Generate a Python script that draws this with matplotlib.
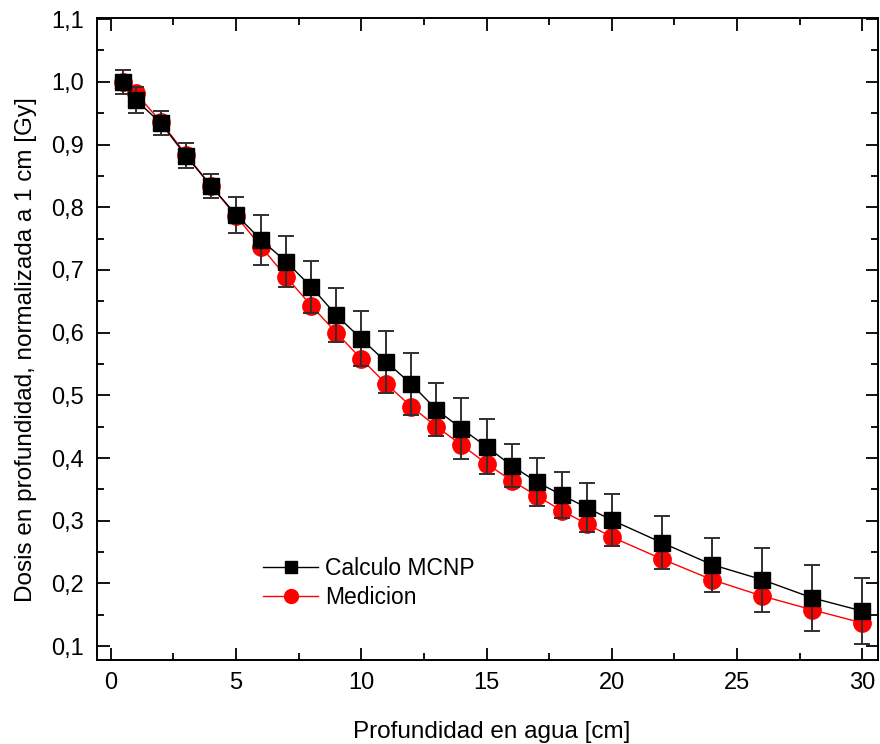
import matplotlib
matplotlib.use("Agg")
import matplotlib.pyplot as plt
from matplotlib.lines import Line2D
from matplotlib.ticker import MultipleLocator, FuncFormatter

plt.rcParams['font.family'] = ['Liberation Sans', 'DejaVu Sans']

depth = [0.5, 1, 2, 3, 4, 5, 6, 7, 8, 9, 10, 11, 12, 13, 14, 15, 16, 17, 18, 19, 20, 22, 24, 26, 28, 30]
mcnp = [1.000, 0.971, 0.934, 0.882, 0.834, 0.788, 0.748, 0.713, 0.673, 0.628, 0.590, 0.553, 0.518,
        0.477, 0.447, 0.418, 0.388, 0.362, 0.341, 0.321, 0.301, 0.265, 0.230, 0.206, 0.177, 0.156]
mcnp_err = [0.019, 0.020, 0.019, 0.020, 0.019, 0.029, 0.040, 0.041, 0.042, 0.043, 0.044, 0.049, 0.049,
            0.042, 0.048, 0.044, 0.035, 0.038, 0.037, 0.039, 0.041, 0.042, 0.043, 0.051, 0.053, 0.052]
medicion = [1.000, 0.982, 0.936, 0.884, 0.834, 0.786, 0.737, 0.689, 0.643, 0.600, 0.558, 0.518, 0.482,
            0.450, 0.421, 0.391, 0.364, 0.340, 0.316, 0.295, 0.274, 0.239, 0.206, 0.180, 0.158, 0.137]

fig = plt.figure(figsize=(8.8, 7.44), dpi=100)
ax = fig.add_axes([0.110, 0.113, 0.888, 0.863])

red_line, = ax.plot(depth, medicion, color='red', lw=1.0, marker='o', ms=12.5, mfc='red', mec='red',
                    label='Medicion', zorder=2)
ax.errorbar(depth, mcnp, yerr=mcnp_err, color='black', lw=1.0, marker='s', ms=11,
            mfc='black', mec='black', ecolor='#303030', elinewidth=1.4, capsize=6, capthick=1.4,
            zorder=3)

ax.set_xlim(-0.56, 30.64)
ax.set_ylim(0.078, 1.102)
ax.xaxis.set_major_locator(MultipleLocator(5))
ax.xaxis.set_minor_locator(MultipleLocator(2.5))
ax.yaxis.set_major_locator(MultipleLocator(0.1))
ax.yaxis.set_minor_locator(MultipleLocator(0.05))
ax.yaxis.set_major_formatter(FuncFormatter(lambda v, p: f"{v:.1f}".replace('.', ',')))
ax.xaxis.set_major_formatter(FuncFormatter(lambda v, p: f"{v:.0f}"))
ax.tick_params(which='both', direction='in', top=True, right=True, labeltop=False, labelright=False,
               labelsize=17, width=1.3)
ax.tick_params(which='major', length=9, pad=9)
ax.tick_params(which='minor', length=5)
for s in ax.spines.values():
    s.set_linewidth(1.4)

ax.set_xlabel('Profundidad en agua [cm]', fontsize=17.5)
ax.set_ylabel('Dosis en profundidad, normalizada a 1 cm [Gy]', fontsize=17.5)
ax.xaxis.set_label_coords(0.505, -0.095)
ax.yaxis.set_label_coords(-0.076, 0.484)

black_handle = Line2D([], [], color='black', lw=1.0, marker='s', ms=11, mfc='black', mec='black')
leg = fig.legend([black_handle, red_line], ['Calculo MCNP', 'Medicion'], loc='upper left',
                 bbox_to_anchor=(263 / 880, 1 - 557 / 744), bbox_transform=fig.transFigure,
                 frameon=False, fontsize=16.5, handlelength=2.4, handletextpad=0.3,
                 labelspacing=0.25, borderpad=0, borderaxespad=0, markerscale=0.8)

fig.savefig('out.png', dpi=100)
